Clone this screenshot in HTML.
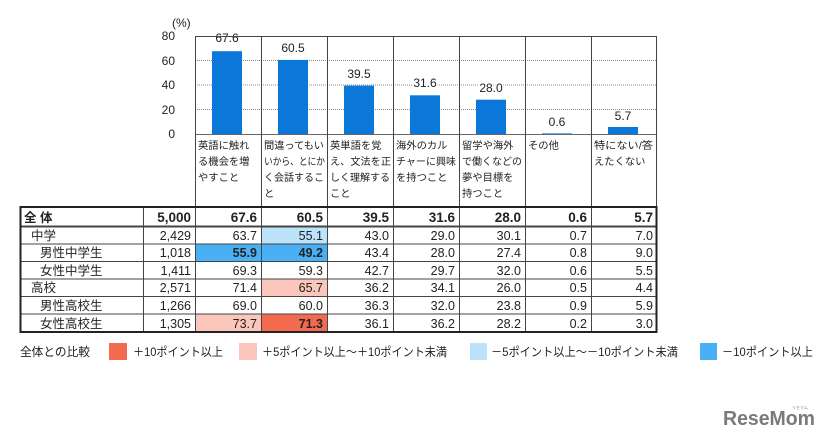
<!DOCTYPE html>
<html><head><meta charset="utf-8"><style>
body{margin:0;background:#fff;}
svg{display:block;font-family:"Liberation Sans","Noto Sans CJK JP",sans-serif;}
</style></head><body>
<svg width="834" height="441" viewBox="0 0 834 441" xmlns="http://www.w3.org/2000/svg">
<g font-size="12" fill="#222">
<text x="172" y="27">(%)</text>
<text x="175" y="40" text-anchor="end">80</text>
<text x="175" y="65" text-anchor="end">60</text>
<text x="175" y="89" text-anchor="end">40</text>
<text x="175" y="114" text-anchor="end">20</text>
<text x="175" y="138" text-anchor="end">0</text>
</g>
<g stroke="#888" stroke-dasharray="1,1" stroke-width="1">
<line x1="195" y1="60.5" x2="657" y2="60.5"/>
<line x1="195" y1="85" x2="657" y2="85"/>
<line x1="195" y1="109.5" x2="657" y2="109.5"/>
</g>
<g fill="#0a77d9">
<rect x="212" y="51.2" width="30" height="82.8"/>
<rect x="278" y="59.9" width="30" height="74.1"/>
<rect x="344" y="85.6" width="30" height="48.4"/>
<rect x="410" y="95.3" width="30" height="38.7"/>
<rect x="476" y="99.7" width="30" height="34.3"/>
<rect x="542" y="133" width="30" height="1" fill="#6ab0ee"/>
<rect x="608" y="127" width="30" height="7"/>
</g>
<g font-size="12" fill="#222" text-anchor="middle">
<text x="227" y="42" style="paint-order:stroke" stroke="#fff" stroke-width="3">67.6</text>
<text x="293" y="52">60.5</text>
<text x="359" y="78">39.5</text>
<text x="425" y="87" style="paint-order:stroke" stroke="#fff" stroke-width="3">31.6</text>
<text x="491" y="92" style="paint-order:stroke" stroke="#fff" stroke-width="3">28.0</text>
<text x="557" y="126">0.6</text>
<text x="623" y="120">5.7</text>
</g>
<g stroke="#444" fill="none" stroke-width="1">
<line x1="195" y1="36.5" x2="657" y2="36.5"/>
<line x1="195" y1="134.5" x2="657" y2="134.5" stroke="#666"/>
<line x1="195.5" y1="36" x2="195.5" y2="206"/>
<line x1="261.5" y1="36" x2="261.5" y2="206"/>
<line x1="327.5" y1="36" x2="327.5" y2="206"/>
<line x1="393.5" y1="36" x2="393.5" y2="206"/>
<line x1="459.5" y1="36" x2="459.5" y2="206"/>
<line x1="525.5" y1="36" x2="525.5" y2="206"/>
<line x1="591.5" y1="36" x2="591.5" y2="206"/>
<line x1="656.5" y1="36" x2="656.5" y2="206"/>
</g>
<g font-size="10.3" fill="#222">
<text x="198" y="149">英語に触れ</text><text x="198" y="165">る機会を増</text><text x="198" y="181">やすこと</text>
<text x="264" y="149" textLength="60" lengthAdjust="spacingAndGlyphs">間違ってもい</text><text x="264" y="165" textLength="61" lengthAdjust="spacingAndGlyphs">いから、とにか</text><text x="264" y="181" textLength="60" lengthAdjust="spacingAndGlyphs">く会話するこ</text><text x="264" y="197">と</text>
<text x="330" y="149">英単語を覚</text><text x="330" y="165" textLength="61" lengthAdjust="spacingAndGlyphs">え、文法を正</text><text x="330" y="181" textLength="60" lengthAdjust="spacingAndGlyphs">しく理解する</text><text x="330" y="197">こと</text>
<text x="396" y="149">海外のカル</text><text x="396" y="165" textLength="60" lengthAdjust="spacingAndGlyphs">チャーに興味</text><text x="396" y="181">を持つこと</text>
<text x="462" y="149">留学や海外</text><text x="462" y="165" textLength="60" lengthAdjust="spacingAndGlyphs">で働くなどの</text><text x="462" y="181">夢や目標を</text><text x="462" y="197">持つこと</text>
<text x="528" y="149">その他</text>
<text x="594" y="149" textLength="59" lengthAdjust="spacingAndGlyphs">特にない/答</text><text x="594" y="165">えたくない</text>
</g>
<rect x="261" y="227" width="66" height="17" fill="#bde3fb"/>
<rect x="195" y="244" width="66" height="17" fill="#4ab0f5"/>
<rect x="261" y="244" width="66" height="17" fill="#4ab0f5"/>
<rect x="261" y="279" width="66" height="17" fill="#fbc6bc"/>
<rect x="195" y="314" width="66" height="18" fill="#fbc6bc"/>
<rect x="261" y="314" width="66" height="18" fill="#f26b4f"/>
<g stroke="#444" stroke-width="1" fill="none">
<line x1="20" y1="226.5" x2="657" y2="226.5" stroke-width="2"/>
<line x1="20" y1="244" x2="657" y2="244"/>
<line x1="20" y1="261.5" x2="657" y2="261.5"/>
<line x1="20" y1="279" x2="657" y2="279"/>
<line x1="20" y1="296.5" x2="657" y2="296.5"/>
<line x1="20" y1="314" x2="657" y2="314"/>
<line x1="143.5" y1="207" x2="143.5" y2="332"/>
<line x1="195.5" y1="207" x2="195.5" y2="332"/>
<line x1="261.5" y1="207" x2="261.5" y2="332"/>
<line x1="327.5" y1="207" x2="327.5" y2="332"/>
<line x1="393.5" y1="207" x2="393.5" y2="332"/>
<line x1="459.5" y1="207" x2="459.5" y2="332"/>
<line x1="525.5" y1="207" x2="525.5" y2="332"/>
<line x1="591.5" y1="207" x2="591.5" y2="332"/>
</g>
<rect x="20.5" y="207" width="636" height="125" fill="none" stroke="#222" stroke-width="2"/>
<g font-size="12.5" fill="#222">
<text x="24" y="222" font-weight="bold">全 体</text>
<text x="31" y="240">中学</text>
<text x="40" y="257">男性中学生</text>
<text x="40" y="275">女性中学生</text>
<text x="31" y="292">高校</text>
<text x="40" y="310">男性高校生</text>
<text x="40" y="328">女性高校生</text>
</g>
<g font-size="12.5" fill="#222" text-anchor="end">
<g font-weight="bold" font-size="13.5">
<text x="191" y="222">5,000</text><text x="257" y="222">67.6</text><text x="323" y="222">60.5</text><text x="389" y="222">39.5</text><text x="455" y="222">31.6</text><text x="521" y="222">28.0</text><text x="587" y="222">0.6</text><text x="653" y="222">5.7</text>
</g>
<text x="191" y="240">2,429</text><text x="257" y="240">63.7</text><text x="323" y="240">55.1</text><text x="389" y="240">43.0</text><text x="455" y="240">29.0</text><text x="521" y="240">30.1</text><text x="587" y="240">0.7</text><text x="653" y="240">7.0</text>
<text x="191" y="257">1,018</text><text x="257" y="257" font-weight="bold">55.9</text><text x="323" y="257" font-weight="bold">49.2</text><text x="389" y="257">43.4</text><text x="455" y="257">28.0</text><text x="521" y="257">27.4</text><text x="587" y="257">0.8</text><text x="653" y="257">9.0</text>
<text x="191" y="275">1,411</text><text x="257" y="275">69.3</text><text x="323" y="275">59.3</text><text x="389" y="275">42.7</text><text x="455" y="275">29.7</text><text x="521" y="275">32.0</text><text x="587" y="275">0.6</text><text x="653" y="275">5.5</text>
<text x="191" y="292">2,571</text><text x="257" y="292">71.4</text><text x="323" y="292">65.7</text><text x="389" y="292">36.2</text><text x="455" y="292">34.1</text><text x="521" y="292">26.0</text><text x="587" y="292">0.5</text><text x="653" y="292">4.4</text>
<text x="191" y="310">1,266</text><text x="257" y="310">69.0</text><text x="323" y="310">60.0</text><text x="389" y="310">36.3</text><text x="455" y="310">32.0</text><text x="521" y="310">23.8</text><text x="587" y="310">0.9</text><text x="653" y="310">5.9</text>
<text x="191" y="328">1,305</text><text x="257" y="328">73.7</text><text x="323" y="328" font-weight="bold">71.3</text><text x="389" y="328">36.1</text><text x="455" y="328">36.2</text><text x="521" y="328">28.2</text><text x="587" y="328">0.2</text><text x="653" y="328">3.0</text>
</g>
<rect x="109" y="343" width="18" height="17" fill="#f26b4f"/>
<rect x="239" y="343" width="18" height="17" fill="#fbc6bc"/>
<rect x="470" y="343" width="17" height="17" fill="#bde3fb"/>
<rect x="700" y="343" width="17" height="17" fill="#4ab0f5"/>
<g font-size="12" fill="#222">
<text x="20" y="356" textLength="70" lengthAdjust="spacingAndGlyphs">全体との比較</text>
<text x="133" y="356" textLength="90" lengthAdjust="spacingAndGlyphs">＋10ポイント以上</text>
<text x="262" y="356" textLength="185" lengthAdjust="spacingAndGlyphs">＋5ポイント以上～＋10ポイント未満</text>
<text x="491" y="356" textLength="187" lengthAdjust="spacingAndGlyphs">－5ポイント以上～－10ポイント未満</text>
<text x="722" y="356" textLength="91" lengthAdjust="spacingAndGlyphs">－10ポイント以上</text>
</g>
<text x="723" y="425" font-size="20" font-weight="bold" fill="#7a7a7a" textLength="92" lengthAdjust="spacingAndGlyphs">ReseMom</text>
<text x="792" y="409" font-size="4" fill="#888">リセマム</text>
</svg>
</body></html>
